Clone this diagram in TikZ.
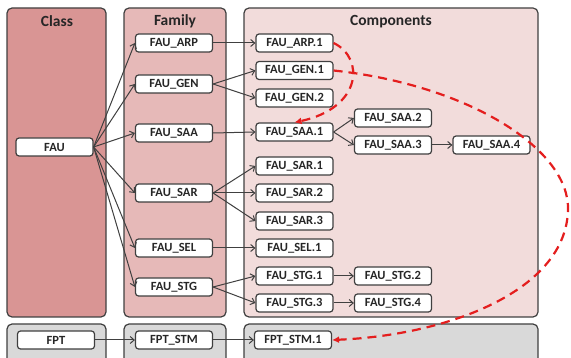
\documentclass[tikz,border=0pt]{standalone}
\usepackage{fontspec}
\setmainfont{Carlito}
\usetikzlibrary{arrows.meta}
\definecolor{classc}{RGB}{217,149,148}
\definecolor{famc}{RGB}{230,185,184}
\definecolor{compc}{RGB}{242,220,219}
\definecolor{grayc}{RGB}{217,217,217}
\definecolor{edgec}{RGB}{64,64,64}
\definecolor{redc}{RGB}{228,30,30}
\tikzset{
  panel/.style={draw=edgec, line width=1.2pt, rounded corners=5pt},
  title/.style={font=\bfseries\fontsize{15.5}{17}\selectfont, text=black!85},
  box/.style={draw=edgec, fill=white, line width=1.2pt, rounded corners=3pt,
    minimum width=77pt, minimum height=18pt, inner sep=0pt,
    font=\bfseries\fontsize{12.5}{14}\selectfont, text=black!85},
  arr/.style={draw=edgec, line width=1pt, -{Straight Barb[length=4pt,width=7pt]}},
  redarr/.style={draw=redc, line width=2.2pt, dash pattern=on 9pt off 6pt, -{Latex[length=7pt,width=7pt]}}
}
\begin{document}
\begin{tikzpicture}[x=1pt,y=-1pt]
\useasboundingbox (0,0) rectangle (571,358);
\clip (0,0) rectangle (571,358);
% panels
\draw[panel, fill=classc] (7,8) rectangle (106,317);
\draw[panel, fill=famc] (124,8) rectangle (226,317);
\draw[panel, fill=compc] (244,8) rectangle (538,317);
\draw[panel, fill=grayc] (7,324) rectangle (106,372);
\draw[panel, fill=grayc] (124,324) rectangle (226,372);
\draw[panel, fill=grayc] (244,324) rectangle (538,372);
\node[title] (tclass) at (57,21) {Class};
\node[title] (tfam) at (175,21) {Family};
\node[title] (tcomp) at (391,22) {Components};
% class
\node[box] (fau) at (54.5,147) {FAU};
\node[box] (fpt) at (56,340) {FPT};
% family
\node[box] (arp) at (174,43) {FAU\_ARP};
\node[box] (gen) at (174,84) {FAU\_GEN};
\node[box] (saa) at (174,133) {FAU\_SAA};
\node[box] (sar) at (174,193) {FAU\_SAR};
\node[box] (sel) at (174,248) {FAU\_SEL};
\node[box] (stg) at (174,287) {FAU\_STG};
\node[box] (stm) at (174,340) {FPT\_STM};
% components col 1
\node[box] (arp1) at (294.5,43) {FAU\_ARP.1};
\node[box] (gen1) at (294.5,70.5) {FAU\_GEN.1};
\node[box] (gen2) at (294.5,98) {FAU\_GEN.2};
\node[box] (saa1) at (294.5,132) {FAU\_SAA.1};
\node[box] (sar1) at (294.5,166) {FAU\_SAR.1};
\node[box] (sar2) at (294.5,193) {FAU\_SAR.2};
\node[box] (sar3) at (294.5,221) {FAU\_SAR.3};
\node[box] (sel1) at (294.5,248) {FAU\_SEL.1};
\node[box] (stg1) at (294.5,276) {FAU\_STG.1};
\node[box] (stg3) at (294.5,303) {FAU\_STG.3};
\node[box] (stm1) at (293,340) {FPT\_STM.1};
% col 2
\node[box] (saa2) at (393,118) {FAU\_SAA.2};
\node[box] (saa3) at (393,145) {FAU\_SAA.3};
\node[box] (stg2) at (393,276) {FAU\_STG.2};
\node[box] (stg4) at (393,303) {FAU\_STG.4};
% col 3
\node[box] (saa4) at (491.5,145) {FAU\_SAA.4};
% class -> family
\foreach \t in {arp,gen,saa,sar,sel,stg}
  \draw[arr] (fau.east) -- (\t.west);
\draw[arr] (fpt.east) -- (stm.west);
% family -> components
\draw[arr] (arp.east) -- (arp1.west);
\draw[arr] (gen.east) -- (gen1.west);
\draw[arr] (gen.east) -- (gen2.west);
\draw[arr] (saa.east) -- (saa1.west);
\draw[arr] (sar.east) -- (sar1.west);
\draw[arr] (sar.east) -- (sar2.west);
\draw[arr] (sar.east) -- (sar3.west);
\draw[arr] (sel.east) -- (sel1.west);
\draw[arr] (stg.east) -- (stg1.west);
\draw[arr] (stg.east) -- (stg3.west);
\draw[arr] (stm.east) -- (stm1.west);
% within components
\draw[arr] (saa1.east) -- (saa2.west);
\draw[arr] (saa1.east) -- (saa3.west);
\draw[arr] (saa3.east) -- (saa4.west);
\draw[arr] (stg1.east) -- (stg2.west);
\draw[arr] (stg3.east) -- (stg4.west);
% red dashed
\draw[redarr] (arp1.east) .. controls (365,58) and (362,108) .. (saa1.north);
\draw[redarr] (gen1.east) .. controls (470,85) and (570,150) .. (568,210)
  .. controls (566,290) and (450,335) .. (stm1.east);
\end{tikzpicture}
\end{document}
